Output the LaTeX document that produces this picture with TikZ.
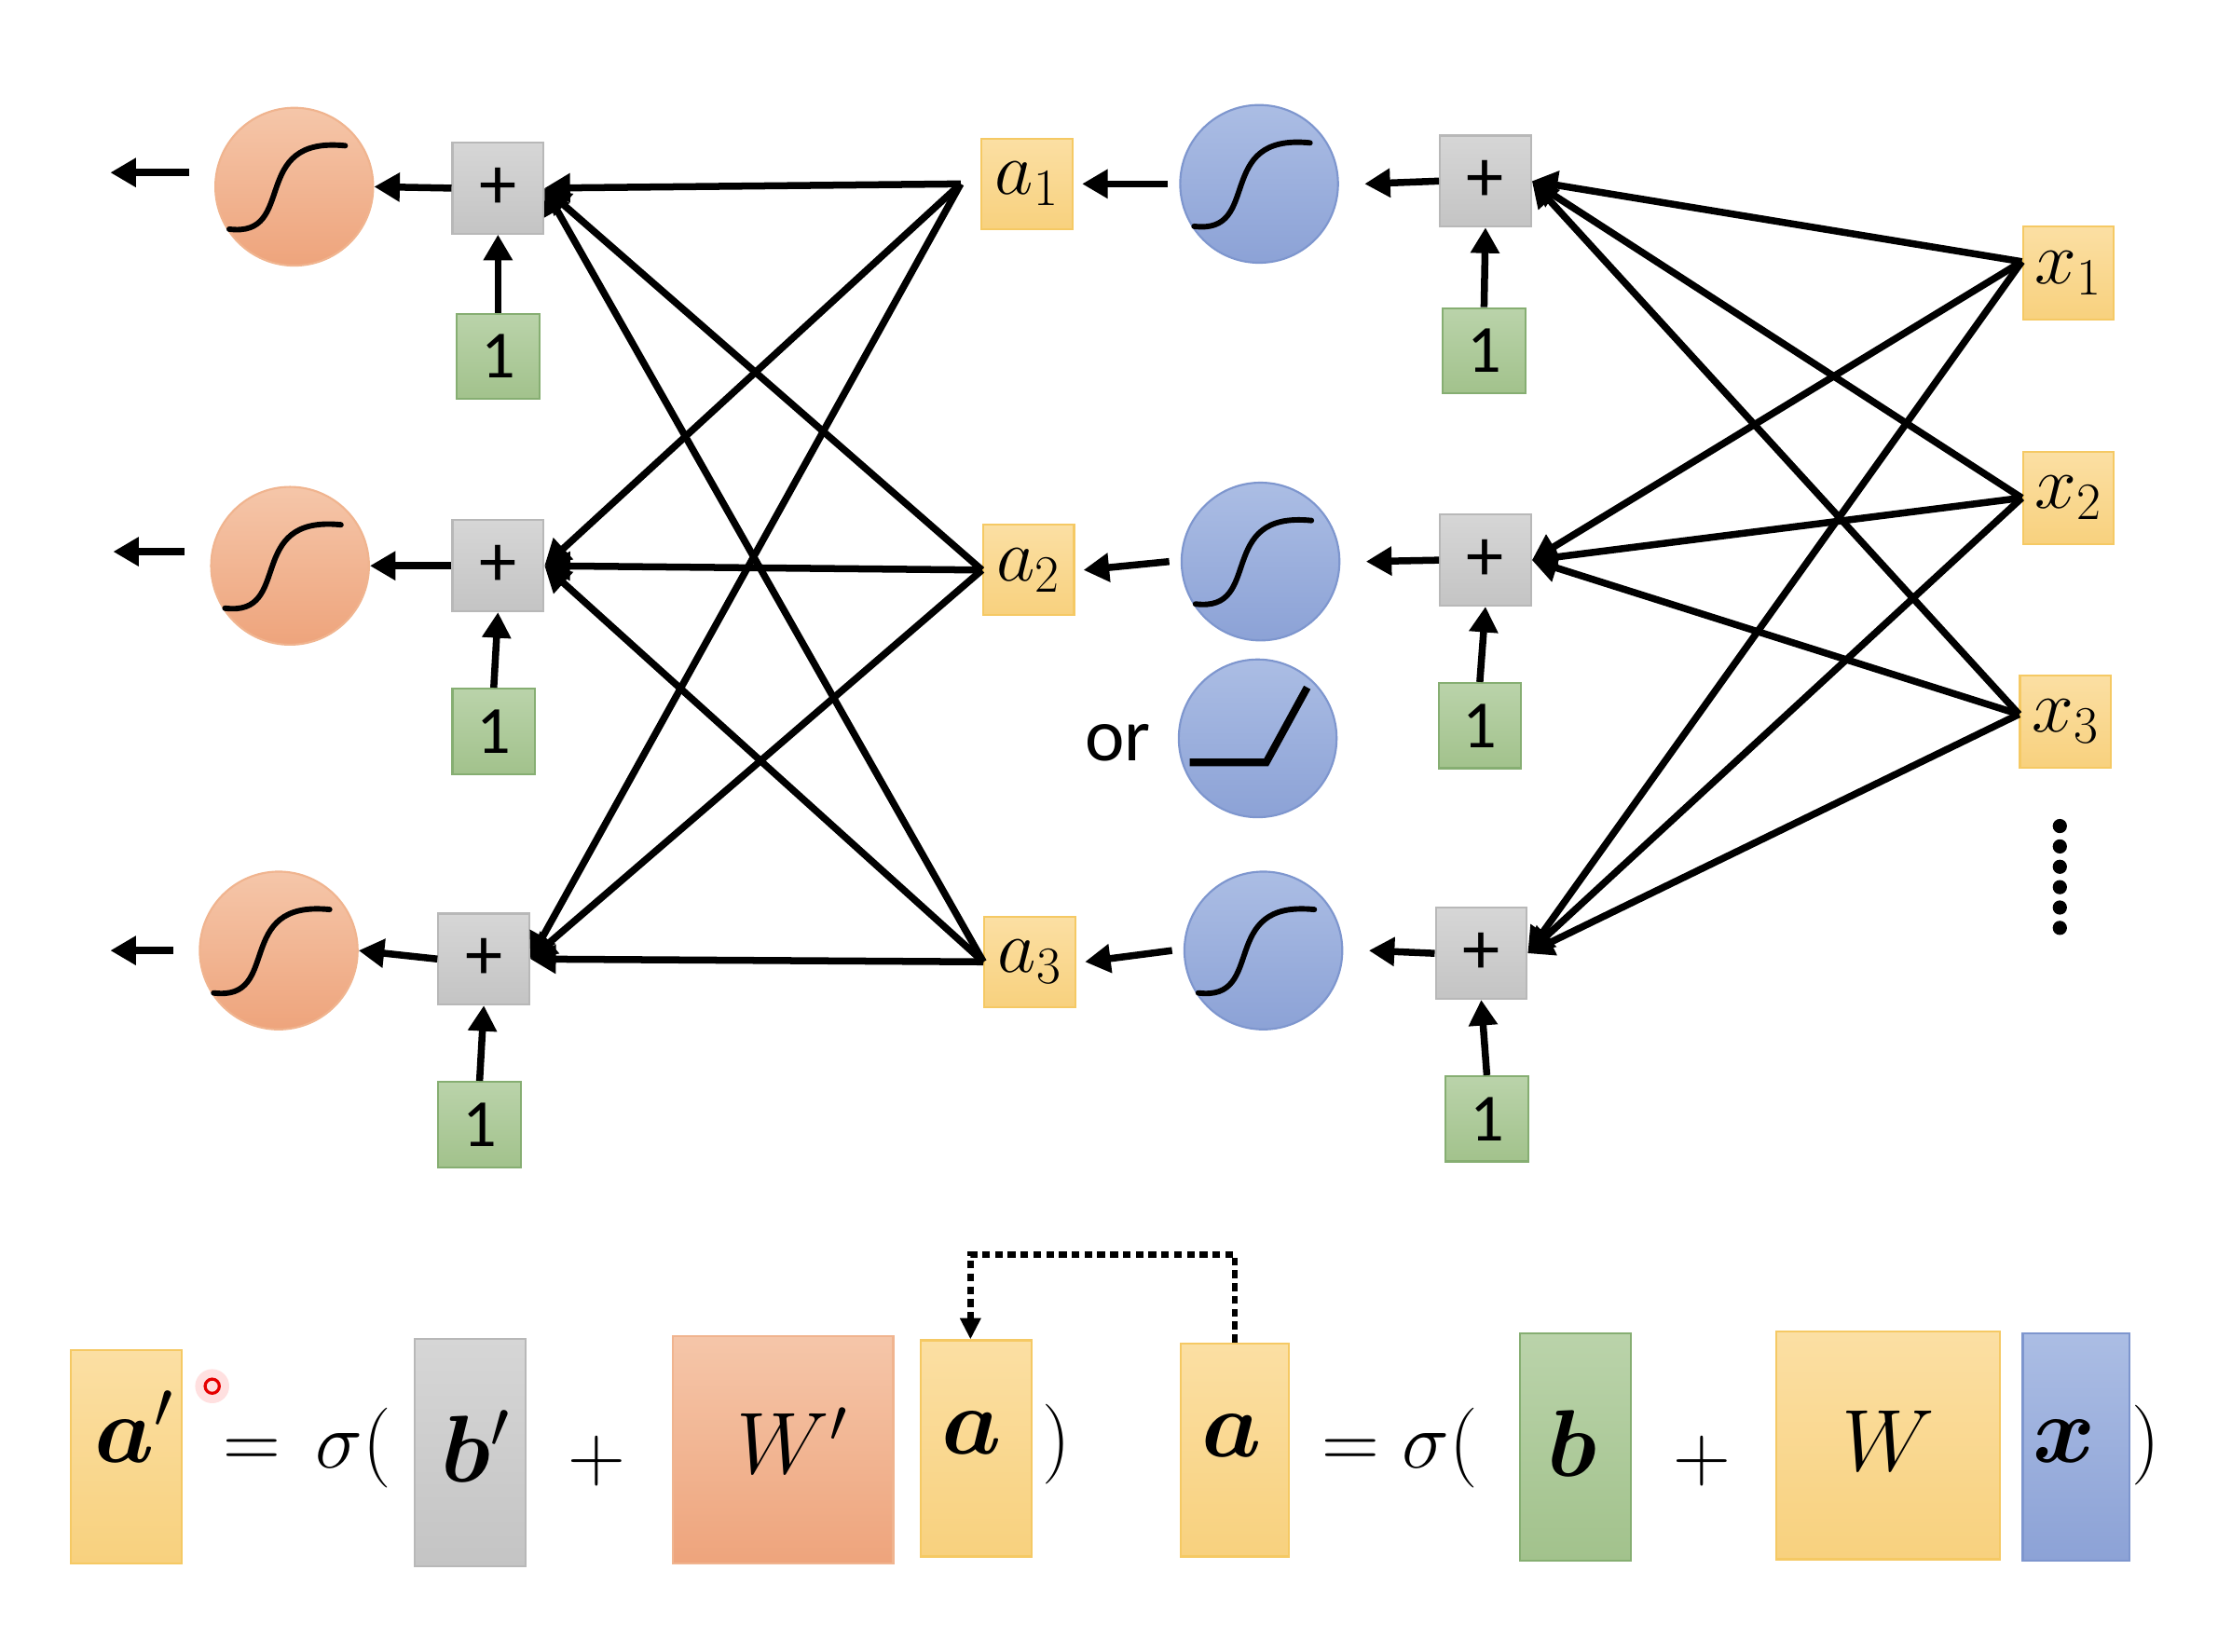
\RequirePackage{fix-cm}
\documentclass[tikz,border=0pt]{standalone}
\usepackage{amsmath,bm}
\usepackage{fontspec}
\newfontfamily\calibri{Carlito}
\usetikzlibrary{arrows.meta,calc}

\definecolor{ylwtop}{HTML}{FBDFA3}
\definecolor{ylwbot}{HTML}{F8D17E}
\definecolor{ylwedge}{HTML}{F5C964}
\definecolor{grytop}{HTML}{D6D6D6}
\definecolor{grybot}{HTML}{C4C4C4}
\definecolor{gryedge}{HTML}{B8B8B8}
\definecolor{grntop}{HTML}{BAD3AA}
\definecolor{grnbot}{HTML}{A2C28C}
\definecolor{grnedge}{HTML}{86AE72}
\definecolor{orgtop}{HTML}{F5C6A9}
\definecolor{orgbot}{HTML}{EEA47C}
\definecolor{orgedge}{HTML}{F0B48F}
\definecolor{blutop}{HTML}{ABBDE4}
\definecolor{blubot}{HTML}{8CA2D6}
\definecolor{bluedge}{HTML}{7E96CE}

\newcommand\netfont{\fontsize{30}{36}\selectfont}
\newcommand\eqfont{\fontsize{32}{38}\selectfont}
\newcommand\vecfont{\fontsize{38}{46}\selectfont}
\newcommand\wfont{\fontsize{35}{42}\selectfont}

\begin{document}
\begin{tikzpicture}[x=0.199mm, y=-0.199mm, line width=2.8pt,
    arr/.style={-{Triangle[length=3.6mm,width=3.9mm]}},
    sig/.style={circle, draw=#1edge, line width=0.8pt, top color=#1top, bottom color=#1bot, minimum size=22.2mm, inner sep=0pt},
    sumbox/.style={draw=gryedge, line width=0.8pt, top color=grytop, bottom color=grybot, minimum size=12.8mm, inner sep=0pt, font=\calibri\fontsize{30}{36}\selectfont},
    onebox/.style={draw=grnedge, line width=0.8pt, top color=grntop, bottom color=grnbot, minimum width=11.6mm, minimum height=12mm, inner sep=0pt, font=\calibri\fontsize{27}{32}\selectfont},
    valbox/.style={draw=ylwedge, line width=0.8pt, top color=ylwtop, bottom color=ylwbot, minimum width=12.8mm, minimum height=12.7mm, inner sep=0pt, font=\netfont},
    vecbox/.style={draw=#1edge, line width=0.8pt, top color=#1top, bottom color=#1bot, minimum width=15.6mm, minimum height=30mm, inner sep=0pt},
    curve/.style={line width=2.2pt, line cap=round}]
    \useasboundingbox (0,0) rectangle (312mm,-232.3mm);

    \node[sig=org] (s1) at (208,132) {};
    \node[sig=org] (s2) at (205,400) {};
    \node[sig=org] (s3) at (197,672) {};
    \node[sumbox] (p1) at (352,133) {+};
    \node[sumbox] (p2) at (352,400) {+};
    \node[sumbox] (p3) at (342,678) {+};
    \node[onebox] (g1) at (352,252) {1};
    \node[onebox] (g2) at (349,517) {1};
    \node[onebox] (g3) at (339,795) {1};
    \node[valbox] (a1) at (726,130) {$a_1$};
    \node[valbox] (a2) at (727,403) {$a_2$};
    \node[valbox] (a3) at (728,680) {$a_3$};
    \node[sig=blu] (h1) at (890,130) {};
    \node[sig=blu] (h2) at (891,397) {};
    \node[sig=blu] (r) at (889,522) {};
    \node[sig=blu] (h3) at (893,672) {};
    \node[font=\calibri\netfont] (or) at (790,525) {or};
    \node[sumbox] (q1) at (1050,128) {+};
    \node[sumbox] (q2) at (1050,396) {+};
    \node[sumbox] (q3) at (1047,674) {+};
    \node[onebox] (k1) at (1049,248) {1};
    \node[onebox] (k2) at (1046,513) {1};
    \node[onebox] (k3) at (1051,791) {1};
    \node[valbox, minimum height=13mm] (x1) at (1462,193) {$x_1$};
    \node[valbox, minimum height=13mm] (x2) at (1462,352) {$x_2$};
    \node[valbox, minimum height=13mm] (x3) at (1460,510) {$x_3$};
    \coordinate (o1) at (78,122);
    \coordinate (o2) at (80,390);
    \coordinate (o3) at (78,672);

    \foreach \c in {s1,s2,s3,h1,h2,h3}
        \draw[curve] ($(\c)+(-46,30)$) .. controls +(49,6) and +(-69,-7) .. ($(\c)+(36,-29)$);
    \draw[line width=3pt] ($(r)+(-48,17)$) -- ($(r)+(6,17)$) -- ($(r)+(35,-36)$);

    \foreach \i in {1,2,3} {
        \draw[arr, shorten <=3.6mm] (s\i.west |- o\i) -- (o\i);
        \draw[arr] (p\i.west) -- (s\i.east);
        \draw[arr] (g\i.north) -- (p\i.south);
        \draw[arr] (q\i.west) -- ([xshift=3.6mm]h\i.east);
        \draw[arr] ([xshift=-1.6mm]h\i.west) -- ([xshift=1.2mm]a\i.east);
        \draw[arr] (k\i.north) -- (q\i.south);
    }
    \foreach \i/\s in {1/-2.8mm,2/0mm,3/0mm}
        \foreach \j in {1,2,3}
            \draw[arr] ([xshift=\s]a\i.west) -- (p\j.east);
    \foreach \i/\s in {1/1.6mm,2/0mm,3/1mm}
        \foreach \j in {1,2,3}
            \draw[arr] ([yshift=\s]x\i.west) -- (q\j.east);
    \foreach \k in {0,...,5}
        \fill (1456,584+14.4*\k) circle (1mm);

    \node[vecbox=ylw] (vap) at (89,1030) {};
    \node[vecbox=gry, minimum height=32mm] (vbp) at (332.5,1027) {};
    \node[vecbox=org, minimum width=31mm, minimum height=32mm] (vwp) at (553.5,1025) {};
    \node[vecbox=ylw, minimum height=30.4mm] (vaa) at (690,1024) {};
    \node[vecbox=ylw, minimum width=15.2mm] (vab) at (873,1025) {};
    \node[vecbox=grn, minimum height=32mm] (vbb) at (1113.5,1023) {};
    \node[vecbox=ylw, minimum width=31.4mm, minimum height=32mm] (vwb) at (1334.5,1022) {};
    \node[vecbox=blu, minimum width=15mm, minimum height=32mm] (vxb) at (1467.5,1023) {};

    \node[anchor=base, font=\vecfont] (tap) at (95,1034) {$\bm{a}'$};
    \node[anchor=base west, font=\eqfont, inner sep=0pt] (teq1) at (155,1038) {$=\,\sigma($};
    \node[anchor=base, font=\vecfont] (tbp) at (336,1048) {$\bm{b}'$};
    \node[font=\eqfont] (tpl1) at (422,1033) {$+$};
    \node[anchor=base, font=\wfont] (twp) at (560,1042) {$W'$};
    \node[anchor=base, font=\vecfont] (taa) at (687,1028) {$\bm{a}$};
    \node[font=\eqfont] (tpr1) at (747,1021) {$)$};
    \node[anchor=base, font=\vecfont] (tab) at (871,1030) {$\bm{a}$};
    \node[anchor=base west, font=\eqfont, inner sep=0pt] (teq2) at (932,1038) {$=\sigma($};
    \node[anchor=base, font=\vecfont] (tbb) at (1111,1044) {$\bm{b}$};
    \node[font=\eqfont] (tpl2) at (1203,1033) {$+$};
    \node[anchor=base, font=\wfont] (twb) at (1335,1040) {$W$};
    \node[anchor=base, font=\vecfont] (txb) at (1459,1034) {$\bm{x}$};
    \node[font=\eqfont] (tpr2) at (1517,1022) {$)$};

    \coordinate (dtop) at (0,887);
    \draw[line width=2.4pt, dash pattern=on 1.1mm off 0.7mm, -{Triangle[length=3mm,width=2.8mm]}]
        (vab.north) -- (vab.north |- dtop) -| ([xshift=-0.8mm]vaa.north);
    \fill[red!20, opacity=0.6] (150,980) circle (2.4mm);
    \draw[red!90!black, line width=1.2pt] (150,980) circle (1mm);
\end{tikzpicture}
\end{document}
